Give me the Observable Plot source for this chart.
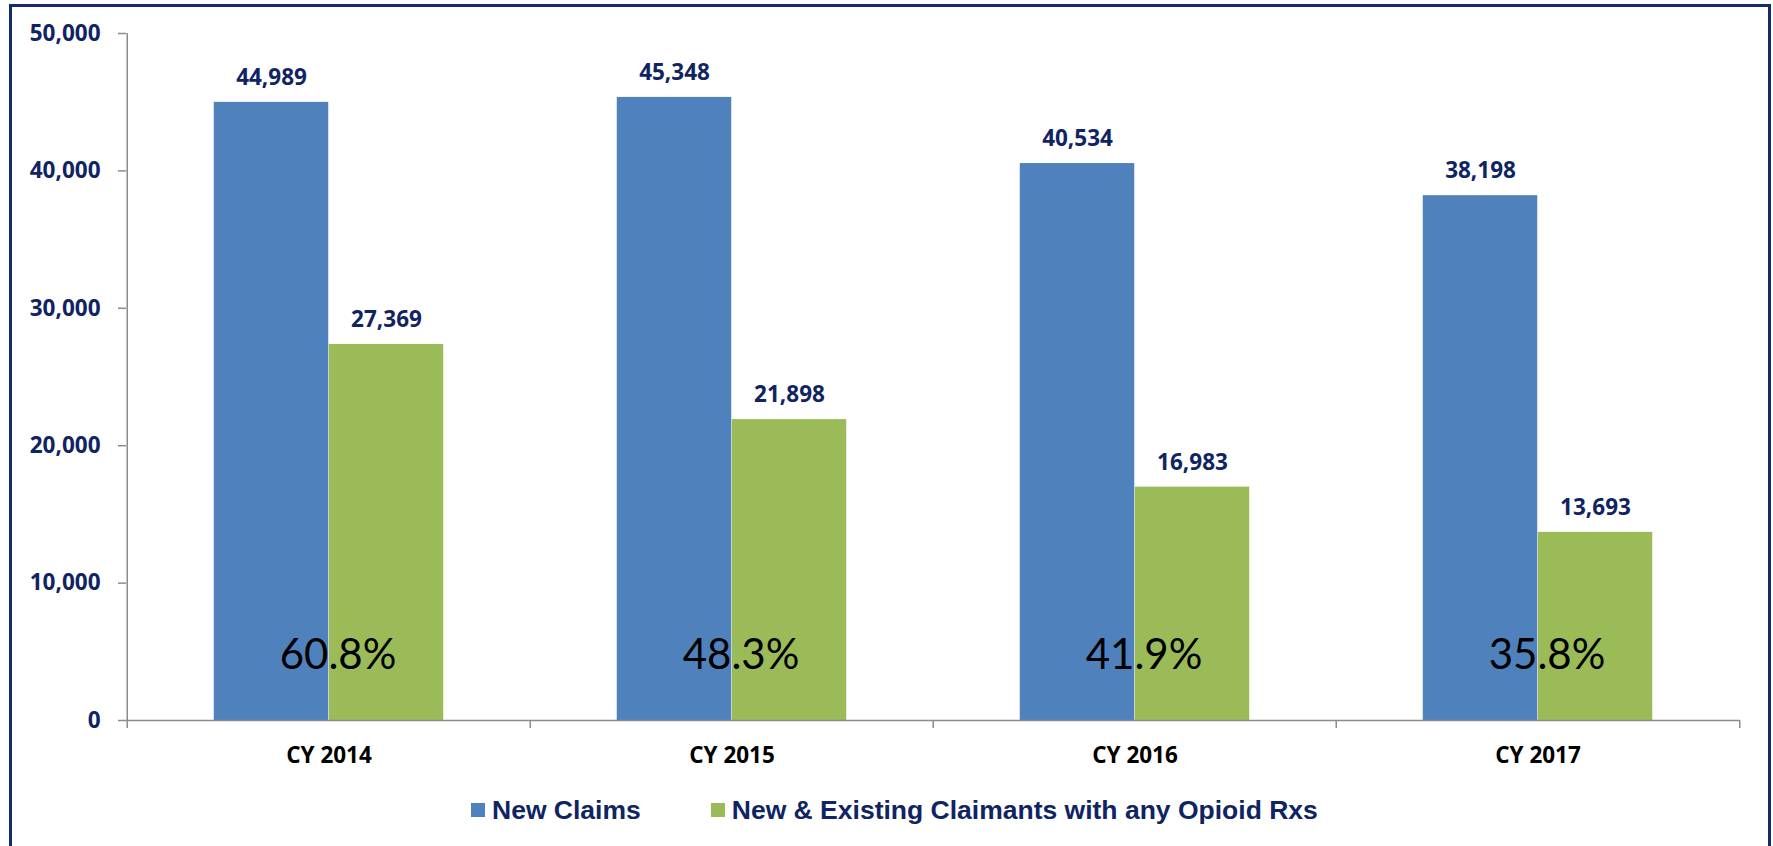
<!DOCTYPE html>
<html>
<head>
<meta charset="utf-8">
<script src="https://cdn.jsdelivr.net/npm/d3@7"></script>
<script src="https://cdn.jsdelivr.net/npm/@observablehq/plot@0.6"></script>
<style>
  html, body { margin: 0; padding: 0; background: #fff; overflow: hidden; width: 1773px; height: 846px; }
  #frame { position: absolute; left: 9px; top: 4px; width: 1762px; height: 900px; box-sizing: border-box; border: 3px solid #142b6c; }
  #chart { position: absolute; left: 0; top: 0; }
  #legend { position: absolute; left: 471px; top: 797px; display: flex; align-items: center;
            font-family: "Liberation Sans", Arial, sans-serif; font-weight: bold; font-size: 26.5px; line-height: 26.5px; color: #0f2463; white-space: nowrap; }
  .sw { width: 14px; height: 14px; display: inline-block; margin-right: 7px; }
  .item { display: flex; align-items: center; }
</style>
</head>
<body>
<div id="frame"></div>
<div id="chart"></div>
<div id="legend"></div>
<script>
const categories = ["CY 2014", "CY 2015", "CY 2016", "CY 2017"];
const seriesNames = ["New Claims", "New & Existing Claimants with any Opioid Rxs"];
const newClaims = [44989, 45348, 40534, 38198];
const opioidClaimants = [27369, 21898, 16983, 13693];
const percentLabels = ["60.8%", "48.3%", "41.9%", "35.8%"];
const yTicks = [0, 10000, 20000, 30000, 40000, 50000];
const colors = ["#4F81BD", "#9BBB59"];

const navy = "#0f2463";
const axisGray = "#8c8c8c";
const boldFont = "Open Sans";

const width = 1773, height = 780;
const marginLeft = 126, marginRight = 33, marginTop = 33, marginBottom = 60;
const bw = (width - marginLeft - marginRight) / categories.length;
const outer = 0.215 * bw, half = 0.5 * bw;
const labelShift = (0.5 - (0.215 + 0.5) / 2) * bw;

const blue = categories.map((c, i) => ({year: c, value: newClaims[i]}));
const green = categories.map((c, i) => ({year: c, value: opioidClaimants[i]}));
const pct = categories.map((c, i) => ({year: c, label: percentLabels[i]}));

const plot = Plot.plot({
  width, height, marginLeft, marginRight, marginTop, marginBottom,
  style: {background: "transparent", overflow: "visible"},
  x: {domain: categories, padding: 0, label: null},
  y: {domain: [0, 50000], label: null},
  marks: [
    Plot.barY(blue, {x: "year", y: "value", fill: colors[0], insetLeft: outer, insetRight: half}),
    Plot.barY(green, {x: "year", y: "value", fill: colors[1], insetLeft: half, insetRight: outer}),
    Plot.ruleY([0], {stroke: axisGray, strokeWidth: 1.5}),
    Plot.ruleX([categories[0]], {dx: -bw / 2, stroke: axisGray, strokeWidth: 1.5}),
    Plot.axisY({ticks: yTicks, tickSize: 8, tickPadding: 18, tickFormat: d3.format(","),
      stroke: axisGray, strokeWidth: 1.5, fill: navy, fontSize: 22.5, fontWeight: "bold",
      fontFamily: boldFont, label: null}),
    Plot.axisX({tickSize: 8, dx: -bw / 2, tickFormat: () => "", stroke: axisGray, strokeWidth: 1.5, label: null}),
    Plot.axisX([categories[categories.length - 1]], {tickSize: 8, dx: bw / 2, tickFormat: () => "", stroke: axisGray, strokeWidth: 1.5, label: null}),
    Plot.axisX({tickSize: 0, tickPadding: 27, fill: "#000", fontSize: 22.5, fontWeight: "bold", fontFamily: boldFont, label: null}),
    Plot.text(blue, {x: "year", y: "value", text: d => d3.format(",")(d.value), dx: -labelShift, dy: -17.5,
      lineAnchor: "bottom", fill: navy, fontSize: 22.5, fontWeight: "bold", fontFamily: boldFont}),
    Plot.text(green, {x: "year", y: "value", text: d => d3.format(",")(d.value), dx: labelShift, dy: -17.5,
      lineAnchor: "bottom", fill: navy, fontSize: 22.5, fontWeight: "bold", fontFamily: boldFont}),
    Plot.text(pct, {x: "year", y: 0, text: "label", dx: 9, dy: -52, lineAnchor: "bottom",
      fill: "#000", fontSize: 42, fontFamily: "Lato"})
  ]
});
document.getElementById("chart").appendChild(plot);

const legend = document.getElementById("legend");
seriesNames.forEach((name, i) => {
  const item = document.createElement("div");
  item.className = "item";
  if (i > 0) item.style.marginLeft = "70px";
  const sw = document.createElement("span");
  sw.className = "sw";
  sw.style.background = colors[i];
  const t = document.createElement("span");
  t.textContent = name;
  item.appendChild(sw);
  item.appendChild(t);
  legend.appendChild(item);
});
</script>
</body>
</html>
